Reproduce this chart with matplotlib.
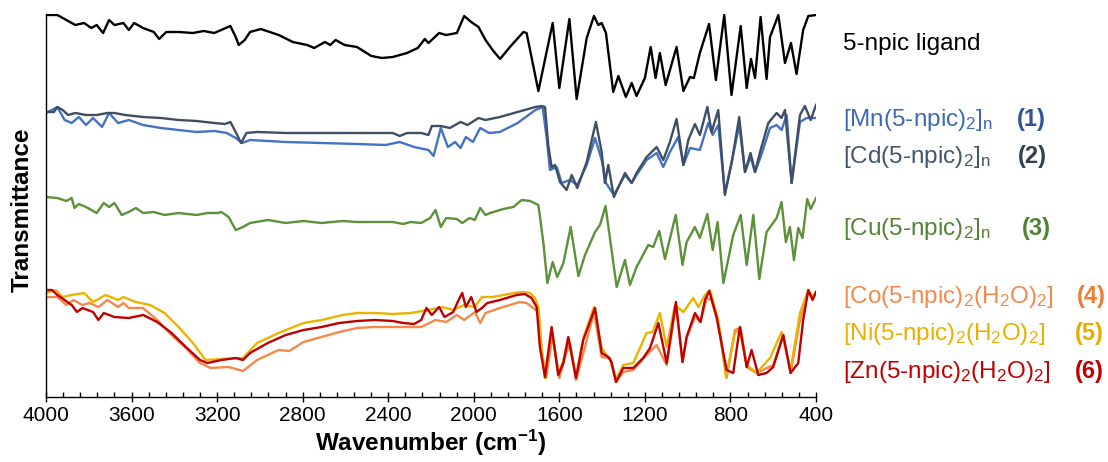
import numpy as np
import matplotlib
matplotlib.use("Agg")
import matplotlib.pyplot as plt
from matplotlib.ticker import MultipleLocator

plt.rcParams['font.family'] = ['Liberation Sans', 'DejaVu Sans']
plt.rcParams['mathtext.default'] = 'regular'

# wavenumber (cm-1) and stacked transmittance (a.u.)
wn_lig = [4000, 3947, 3905, 3863, 3822, 3788, 3763, 3733, 3705, 3680, 3638, 3613, 3588, 3546, 3496, 3471,
          3438, 3380, 3313, 3263, 3213, 3138, 3113, 3099, 3071, 3046, 2996, 2912, 2846, 2779, 2746, 2696,
          2671, 2646, 2604, 2546, 2479, 2429, 2379, 2312, 2262, 2229, 2212, 2162, 2129, 2079, 2045, 2012,
          1978, 1945, 1912, 1877, 1831, 1768, 1753, 1698, 1631, 1600, 1553, 1519, 1472, 1438, 1418, 1402,
          1382, 1348, 1324, 1289, 1262, 1239, 1200, 1173, 1150, 1130, 1103, 1052, 1020, 989, 971, 943,
          900, 868, 829, 795, 752, 724, 704, 685, 659, 631, 615, 576, 545, 517, 491, 460, 436, 400]
t_lig = [385, 385, 380, 375, 377, 372, 375, 367, 380, 375, 377, 370, 377, 372, 368, 361,
         368, 368, 367, 369, 367, 374, 363, 355, 360, 368, 371, 365, 358, 355, 352, 358,
         355, 360, 355, 353, 344, 342, 343, 347, 352, 361, 357, 367, 365, 367, 384, 378,
         373, 360, 350, 341, 353, 368, 367, 309, 377, 312, 381, 301, 362, 384, 375, 377,
         367, 308, 324, 303, 317, 304, 322, 353, 322, 347, 315, 353, 309, 323, 322, 347,
         376, 320, 385, 305, 374, 312, 341, 322, 383, 321, 363, 385, 337, 357, 326, 370, 384, 385]

wn_mn = [4000, 3947, 3913, 3880, 3846, 3813, 3780, 3738, 3705, 3663, 3613, 3546, 3463, 3380, 3296, 3213,
         3155, 3113, 3083, 3046, 2879, 2712, 2546, 2412, 2346, 2279, 2212, 2188, 2154, 2121, 2087, 2062,
         2037, 2004, 1970, 1928, 1878, 1795, 1712, 1678, 1659, 1644, 1612, 1589, 1550, 1516, 1472, 1433,
         1402, 1382, 1345, 1293, 1262, 1239, 1192, 1145, 1114, 1083, 1044, 1020, 989, 943, 904, 883,
         857, 826, 794, 759, 732, 706, 685, 659, 615, 584, 561, 537, 514, 475, 444, 400]
t_mn = [287, 293, 280, 277, 283, 275, 282, 273, 287, 277, 280, 275, 272, 270, 268, 269,
        267, 262, 257, 260, 258, 257, 256, 255, 258, 253, 250, 244, 272, 253, 258, 252,
        263, 258, 272, 267, 268, 277, 290, 293, 262, 230, 233, 217, 220, 215, 235, 262,
        240, 217, 205, 225, 217, 225, 240, 247, 233, 248, 263, 235, 252, 250, 277, 265,
        275, 207, 238, 275, 228, 243, 228, 243, 272, 275, 270, 285, 217, 278, 282, 282]

wn_cd = [4000, 3963, 3947, 3922, 3897, 3863, 3813, 3763, 3713, 3680, 3630, 3546, 3463, 3380, 3296, 3213,
         3163, 3138, 3113, 3088, 3063, 3013, 2879, 2712, 2546, 2379, 2346, 2312, 2246, 2212, 2196, 2154,
         2112, 2062, 2029, 1978, 1945, 1878, 1795, 1712, 1683, 1667, 1652, 1636, 1620, 1597, 1566, 1542,
         1516, 1472, 1429, 1402, 1387, 1371, 1345, 1293, 1262, 1239, 1192, 1145, 1114, 1083, 1052, 1020,
         997, 966, 943, 908, 888, 857, 826, 794, 759, 732, 706, 685, 659, 623, 584, 561,
         545, 514, 475, 452, 425, 400]
t_cd = [288, 288, 293, 290, 285, 287, 285, 285, 287, 287, 285, 283, 282, 280, 279, 277,
        276, 278, 268, 257, 267, 268, 267, 267, 267, 267, 264, 267, 267, 265, 274, 274,
        272, 278, 275, 282, 280, 283, 288, 293, 294, 293, 255, 233, 235, 218, 210, 225,
        212, 238, 278, 248, 217, 235, 203, 227, 217, 227, 243, 253, 240, 258, 281, 235,
        260, 276, 265, 293, 268, 290, 205, 238, 283, 228, 247, 228, 250, 277, 287, 282,
        290, 217, 285, 294, 280, 295]

wn_cu = [4000, 3947, 3905, 3880, 3867, 3847, 3813, 3763, 3730, 3705, 3680, 3646, 3613, 3580, 3546, 3496,
         3446, 3380, 3296, 3246, 3196, 3180, 3146, 3113, 3079, 3046, 2963, 2879, 2796, 2712, 2612, 2546,
         2462, 2379, 2329, 2295, 2246, 2204, 2179, 2154, 2129, 2079, 2054, 2020, 1995, 1970, 1945, 1924,
         1862, 1815, 1776, 1737, 1698, 1675, 1656, 1631, 1610, 1581, 1547, 1511, 1480, 1433, 1410, 1384,
         1332, 1293, 1270, 1239, 1184, 1161, 1133, 1106, 1056, 1024, 1005, 966, 943, 908, 883, 860,
         833, 787, 752, 724, 693, 665, 631, 584, 561, 541, 522, 503, 483, 463, 441, 425, 400]
t_cu = [203, 202, 199, 202, 192, 196, 193, 187, 197, 193, 197, 185, 188, 192, 187, 188,
        185, 187, 185, 187, 187, 188, 183, 170, 173, 177, 180, 177, 179, 177, 179, 178,
        178, 178, 176, 178, 177, 182, 190, 173, 182, 181, 177, 182, 180, 192, 185, 187,
        191, 193, 200, 199, 195, 158, 117, 138, 123, 137, 173, 124, 145, 168, 175, 194,
        113, 140, 115, 133, 155, 153, 169, 141, 185, 135, 158, 173, 162, 186, 150, 178,
        117, 165, 185, 135, 185, 121, 168, 182, 198, 158, 173, 140, 172, 162, 201, 191, 202]

wn_co = [4000, 3947, 3905, 3872, 3830, 3797, 3755, 3713, 3663, 3638, 3613, 3546, 3480, 3413, 3346, 3280,
         3230, 3146, 3079, 3013, 2913, 2863, 2796, 2712, 2629, 2546, 2462, 2379, 2246, 2179, 2129, 2079,
         2045, 1995, 1970, 1945, 1878, 1784, 1753, 1722, 1698, 1683, 1662, 1631, 1600, 1574, 1550, 1522,
         1480, 1438, 1402, 1363, 1335, 1301, 1254, 1192, 1145, 1098, 1055, 1024, 1005, 966, 940, 911,
         888, 857, 818, 779, 752, 724, 678, 600, 553, 519, 475, 436, 416, 400]
t_co = [103, 103, 95, 100, 95, 97, 93, 100, 93, 97, 92, 92, 80, 65, 52, 37,
        32, 33, 29, 40, 50, 49, 58, 63, 68, 72, 73, 73, 73, 80, 78, 85,
        80, 88, 77, 87, 92, 98, 97, 92, 88, 50, 22, 65, 22, 43, 57, 20,
        53, 88, 43, 42, 18, 28, 30, 45, 55, 35, 95, 38, 62, 83, 78, 102,
        100, 77, 22, 70, 72, 33, 27, 35, 65, 27, 80, 108, 102, 107]

wn_ni = [4000, 3955, 3922, 3880, 3822, 3780, 3722, 3663, 3638, 3580, 3513, 3446, 3380, 3313, 3254, 3180,
         3079, 3013, 2913, 2796, 2712, 2612, 2546, 2462, 2379, 2295, 2212, 2146, 2096, 2045, 1995, 1962,
         1912, 1812, 1768, 1737, 1714, 1698, 1683, 1667, 1636, 1605, 1581, 1558, 1522, 1488, 1438, 1402,
         1363, 1335, 1301, 1254, 1192, 1164, 1130, 1098, 1059, 1020, 974, 950, 919, 896, 857, 821,
         779, 756, 724, 678, 615, 561, 519, 475, 436, 416, 400]
t_ni = [107, 110, 103, 105, 107, 98, 105, 100, 103, 98, 95, 87, 73, 57, 40, 41,
        42, 57, 67, 77, 80, 85, 87, 87, 86, 87, 90, 93, 90, 95, 93, 103,
        103, 107, 108, 107, 102, 93, 53, 22, 72, 25, 40, 62, 23, 62, 93, 52,
        40, 21, 35, 37, 67, 68, 87, 53, 95, 88, 102, 93, 105, 110, 80, 23,
        67, 70, 35, 27, 42, 68, 30, 87, 110, 103, 108]

wn_zn = [4000, 3972, 3947, 3913, 3880, 3855, 3830, 3780, 3755, 3730, 3680, 3613, 3546, 3480, 3413, 3346,
         3280, 3246, 3180, 3113, 3079, 3046, 2963, 2879, 2796, 2712, 2629, 2546, 2462, 2379, 2329, 2279,
         2246, 2221, 2196, 2162, 2137, 2096, 2071, 2054, 2037, 2012, 1987, 1962, 1937, 1878, 1800, 1761,
         1730, 1706, 1691, 1667, 1636, 1605, 1581, 1558, 1522, 1488, 1433, 1402, 1371, 1356, 1335, 1301,
         1254, 1208, 1176, 1137, 1098, 1055, 1024, 1005, 966, 940, 919, 899, 865, 818, 787, 756,
         724, 701, 670, 631, 600, 553, 519, 483, 460, 436, 416, 400]
t_zn = [110, 110, 105, 100, 95, 88, 92, 88, 80, 87, 83, 82, 85, 78, 67, 53,
        40, 37, 40, 42, 40, 47, 57, 65, 70, 73, 77, 79, 80, 79, 77, 76,
        80, 92, 85, 93, 83, 88, 100, 107, 93, 103, 88, 92, 97, 100, 105, 106,
        102, 93, 53, 23, 73, 25, 37, 63, 22, 60, 92, 47, 43, 38, 18, 32,
        32, 42, 52, 77, 37, 98, 38, 63, 87, 78, 100, 109, 83, 30, 27, 73,
        33, 50, 25, 27, 33, 65, 27, 37, 80, 110, 100, 108]

names = ["5-npic ligand",
         "[Mn(5-npic)$_2$]$_n$", "[Cd(5-npic)$_2$]$_n$", "[Cu(5-npic)$_2$]$_n$",
         "[Co(5-npic)$_2$(H$_2$O)$_2$]", "[Ni(5-npic)$_2$(H$_2$O)$_2$]", "[Zn(5-npic)$_2$(H$_2$O)$_2$]"]
numbers = ["", "(1)", "(2)", "(3)", "(4)", "(5)", "(6)"]
line_colors = ["#000000", "#4472C4", "#3F4E63", "#5B9138", "#F4894B", "#EBB300", "#C00000"]
text_colors = ["#000000", "#3F69B5", "#44546A", "#548235", "#F4894B", "#E8B000", "#C00000"]
num_colors = ["#000000", "#2F5597", "#333F50", "#548235", "#ED7D31", "#E6AC00", "#C00000"]

fig = plt.figure(figsize=(11.08, 4.62), dpi=100)
ax = fig.add_axes([46 / 1108, 65 / 462, 770 / 1108, 383 / 462])

series = [(wn_lig, t_lig), (wn_mn, t_mn), (wn_cd, t_cd), (wn_cu, t_cu),
          (wn_co, t_co), (wn_ni, t_ni), (wn_zn, t_zn)]
for (w, t), c in zip(series, line_colors):
    ax.plot(w, t, color=c, lw=1.7, solid_joinstyle='round')

ax.set_xlim(4000, 400)
ax.set_ylim(3, 386)
ax.set_xticks(np.arange(4000, 399, -400))
ax.xaxis.set_minor_locator(MultipleLocator(80))
ax.tick_params(axis='x', which='major', direction='inout', length=7, width=1, pad=3)
ax.tick_params(axis='x', which='minor', direction='in', length=3.5, width=1)
ax.set_yticks([])
for s in ['top', 'right']:
    ax.spines[s].set_visible(False)
for s in ['left', 'bottom']:
    ax.spines[s].set_linewidth(1)
for lab in ax.get_xticklabels():
    lab.set_fontsize(15)

fig.text(431 / 1108, 1 - 443 / 462, "Wavenumber (cm$^{-1}$)", ha='center', va='center',
         fontsize=17.5, fontweight='bold')
fig.text(22 / 1108, 1 - 210 / 462, "Transmittance", rotation=90, ha='center', va='center',
         fontsize=17.5, fontweight='bold')

label_base = [50, 126, 163, 235, 303, 340, 378]
num_x = [0, 1017, 1018, 1022, 1077, 1075, 1075]
for i in range(len(names)):
    fig.text(843 / 1108, 1 - label_base[i] / 462, names[i], color=text_colors[i],
             fontsize=17.5, va='baseline', ha='left')
    if numbers[i]:
        fig.text(num_x[i] / 1108, 1 - label_base[i] / 462, numbers[i], color=num_colors[i],
                 fontsize=17, fontweight='bold', va='baseline', ha='left')

fig.savefig("out.png", dpi=100)
